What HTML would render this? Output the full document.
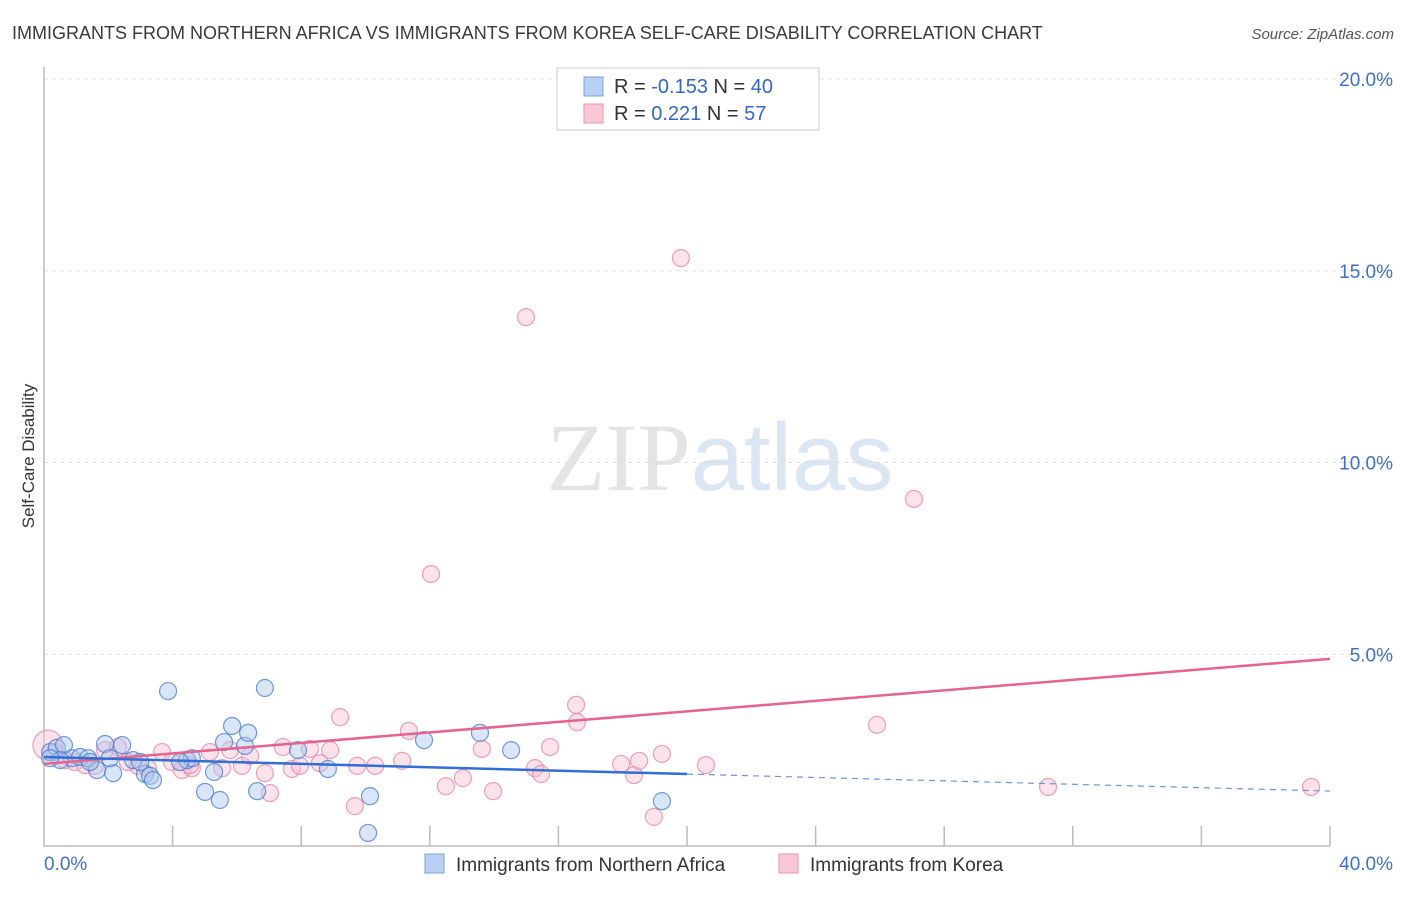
<!DOCTYPE html>
<html><head><meta charset="utf-8"><style>
body{margin:0;background:#fff;font-family:"Liberation Sans",sans-serif;}
svg text{font-family:"Liberation Sans",sans-serif;}
</style></head><body>
<svg id="chart" width="1406" height="892" viewBox="0 0 1406 892" xmlns="http://www.w3.org/2000/svg">
<text x="12" y="39" font-size="18" fill="#3a3a3a">IMMIGRANTS FROM NORTHERN AFRICA VS IMMIGRANTS FROM KOREA SELF-CARE DISABILITY CORRELATION CHART</text>
<text x="1394" y="39" font-size="15" fill="#555" font-style="italic" text-anchor="end">Source: ZipAtlas.com</text>
<text x="720" y="490" font-size="96" text-anchor="middle" font-family="Liberation Serif" fill="#e4e4e4"><tspan font-family="Liberation Serif">ZIP</tspan><tspan fill="#dbe6f5" font-family="Liberation Sans">atlas</tspan></text>
<g id="grid"></g>
<g id="axes"></g>
<g id="pts"></g>
<g id="lines"></g>
<text transform="translate(34,456) rotate(-90)" font-size="17" fill="#333" text-anchor="middle">Self-Care Disability</text>
<g>
<rect x="557" y="68" width="262" height="62" fill="#fff" stroke="#ccc"/>
<rect x="584" y="77" width="19" height="19" fill="#b7d0f3" stroke="#7aa2e0"/>
<rect x="584" y="104" width="19" height="19" fill="#f9c6d5" stroke="#eb94ae"/>
<text x="614" y="93" font-size="20" fill="#333">R = <tspan fill="#3366cc">-0.153</tspan>   N = <tspan fill="#3366cc">40</tspan></text>
<text x="614" y="120" font-size="20" fill="#333">R =  <tspan fill="#3366cc"> 0.221</tspan>   N = <tspan fill="#3366cc">57</tspan></text>
</g>
<g>
<rect x="425" y="854" width="19" height="19" fill="#b7d0f3" stroke="#7aa2e0"/>
<text x="456" y="871" font-size="19" fill="#333">Immigrants from Northern Africa</text>
<rect x="779" y="854" width="19" height="19" fill="#f9c6d5" stroke="#eb94ae"/>
<text x="810" y="871" font-size="19" fill="#333">Immigrants from Korea</text>
</g>
</svg>
<script>
const blueX=[0.19,0.40,0.62,0.87,1.12,1.37,1.65,1.90,2.15,2.43,2.77,3.14,3.30,3.39,3.86,4.45,4.60,5.01,5.29,5.47,5.60,5.85,6.25,6.35,6.63,6.87,7.90,8.83,10.14,10.08,11.82,13.56,14.53,19.22,0.50,1.43,2.05,2.99,4.23,0.19];
const blueY=[2.45,2.56,2.63,2.29,2.32,2.29,1.98,2.66,1.90,2.63,2.24,1.88,1.83,1.72,4.04,2.24,2.29,1.41,1.93,1.20,2.71,3.13,2.61,2.95,1.43,4.12,2.50,2.01,1.30,0.34,2.76,2.95,2.50,1.17,2.24,2.19,2.29,2.19,2.19,2.29];
const pinkX=[0.12,0.34,0.65,0.96,1.28,1.59,1.90,2.30,2.61,2.92,3.23,3.67,3.98,4.29,4.60,5.16,5.54,5.79,6.16,6.41,6.87,7.03,7.43,7.71,7.96,8.27,8.58,8.90,9.21,9.67,9.74,10.30,11.14,11.35,12.04,12.50,13.03,13.62,13.97,14.99,15.27,15.46,15.74,16.55,16.58,17.95,18.35,18.51,18.97,19.22,19.81,20.59,25.91,27.06,31.23,39.41,4.54];
const pinkY=[2.63,2.45,2.24,2.19,2.11,2.09,2.50,2.58,2.19,2.09,2.03,2.45,2.19,1.98,2.03,2.45,2.03,2.50,2.09,2.35,1.90,1.38,2.58,2.01,2.09,2.53,2.16,2.50,3.36,1.04,2.09,2.09,2.22,3.00,7.09,1.56,1.77,2.53,1.43,13.79,2.03,1.88,2.58,3.68,3.23,2.14,1.85,2.22,0.76,2.40,15.33,2.11,3.16,9.05,1.54,1.54,2.11];
const yTicks=[5,10,15,20];
const yTickLabels=["5.0%","10.0%","15.0%","20.0%"];
const blueTrend=[2.32,-0.0222]; // intercept, slope
const pinkTrend=[2.14,0.0685];
const X=v=>44+v*32.15, Y=v=>846-v*38.35;
const NS="http://www.w3.org/2000/svg";
function mk(parent,tag,attrs){const e=document.createElementNS(NS,tag);for(const k in attrs)e.setAttribute(k,attrs[k]);document.getElementById(parent).appendChild(e);return e;}
yTicks.forEach((t,i)=>{
  const g=mk('grid','line',{x1:44,x2:1394,y1:Y(t),y2:Y(t),stroke:'#ddd','stroke-dasharray':'4,4'});
  
  
  const l=mk('grid','text',{x:1393,y:Y(t)+7,'font-size':19,fill:'#3b6fd0','text-anchor':'end'});
  l.textContent=yTickLabels[i];
  
  
});
const ax=mk('axes','path',{d:'M44,67 V846 H1330',stroke:'#bbb',fill:'none','stroke-width':1.5});


for(let i=1;i<=10;i++){const t=mk('axes','line',{x1:X(i*4),x2:X(i*4),y1:826,y2:846,stroke:'#bbb','stroke-width':1.5});

}
const x0=mk('axes','text',{x:44,y:870,'font-size':19,fill:'#3b6fd0'});x0.textContent='0.0%';


const x1=mk('axes','text',{x:1393,y:870,'font-size':19,fill:'#3b6fd0','text-anchor':'end'});x1.textContent='40.0%';


pinkX.forEach((v,i)=>{const c=mk('pts','circle',{cx:X(v),cy:Y(pinkY[i]),r:i===0?15:8.5,fill:'rgba(249,190,208,0.45)',stroke:'rgba(232,130,160,0.75)','stroke-width':1.2});

});
blueX.forEach((v,i)=>{const c=mk('pts','circle',{cx:X(v),cy:Y(blueY[i]),r:8.5,fill:'rgba(170,200,240,0.45)',stroke:'rgba(70,120,210,0.75)','stroke-width':1.2});

});
const f=(t,x)=>t[0]+t[1]*x;
const pl=mk('lines','line',{x1:X(0),y1:Y(f(pinkTrend,0)),x2:X(40),y2:Y(f(pinkTrend,40)),stroke:'#e5648d','stroke-width':2.5});


const bl=mk('lines','line',{x1:X(0),y1:Y(f(blueTrend,0)),x2:X(20),y2:Y(f(blueTrend,20)),stroke:'#2f6fd6','stroke-width':2.5});


const bd=mk('lines','line',{x1:X(20),y1:Y(f(blueTrend,20)),x2:X(40),y2:Y(f(blueTrend,40)),stroke:'#6a95dc','stroke-width':1.2,'stroke-dasharray':'6,5'});


</script>
</body></html>
